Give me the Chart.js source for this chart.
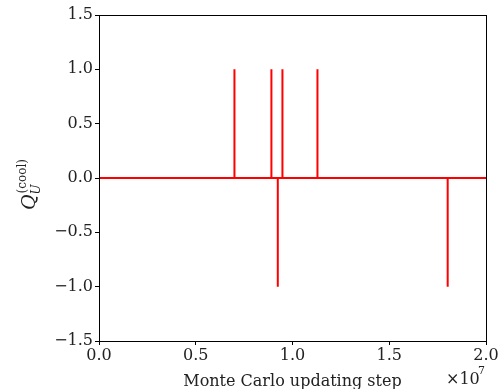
<!DOCTYPE html>
<html><head><meta charset="utf-8">
<script src="https://cdn.jsdelivr.net/npm/chart.js@4.4.1/dist/chart.umd.min.js"></script>
<style>html,body{margin:0;padding:0;background:#fff}#wrap{width:503px;height:389px}</style>
</head><body><div id="wrap"><canvas id="c" width="503" height="389"></canvas></div>
<script>
// Monte Carlo steps where Q_U^(cool) jumps, and the jump values
const spikeSteps = [7.00e6, 8.91e6, 9.24e6, 9.48e6, 11.29e6, 18.02e6];
const spikeValues = [1, 1, -1, 1, 1, -1];
const xRange = [0, 2e7];
const yTicks = [-1.5, -1.0, -0.5, 0.0, 0.5, 1.0, 1.5];
const xTicks = [0, 0.5e7, 1.0e7, 1.5e7, 2.0e7];

const series = [{x: xRange[0], y: 0}];
spikeSteps.forEach((s, i) => {
  series.push({x: s, y: 0}, {x: s, y: spikeValues[i]}, {x: s, y: 0});
});
series.push({x: xRange[1], y: 0});

const FONT = '"DejaVu Serif", serif';
const fmt = v => { const s = Math.abs(v).toFixed(1); return (v < -1e-9 ? '\u2212' : '') + s; };

const frame = {
  id: 'frame',
  afterDraw(chart) {
    const {ctx, chartArea: a} = chart;
    ctx.save();
    ctx.strokeStyle = '#000'; ctx.lineWidth = 1;
    ctx.strokeRect(Math.round(a.left) + 0.5, Math.round(a.top) + 0.5, Math.round(a.right - a.left), Math.round(a.bottom - a.top));
    ctx.fillStyle = '#222';
    // x title
    ctx.font = '16px ' + FONT;
    ctx.textAlign = 'center'; ctx.textBaseline = 'alphabetic';
    ctx.fillText('Monte Carlo updating step', (a.left + a.right) / 2, 386);
    // x10^7
    ctx.textAlign = 'left';
    ctx.fillText('\u00d710', 446, 384);
    ctx.font = '11px ' + FONT;
    ctx.fillText('7', 478, 374);
    // y title rotated
    ctx.translate(35, (a.top + a.bottom) / 2);
    ctx.rotate(-Math.PI / 2);
    ctx.textAlign = 'left';
    ctx.font = 'italic 19px ' + FONT;
    const wQ = ctx.measureText('Q').width;
    const start = -32;
    ctx.fillText('Q', start, 0);
    ctx.font = 'italic 12px ' + FONT;
    ctx.fillText('U', start + wQ, 5);
    ctx.font = '12px ' + FONT;
    ctx.fillText('(cool)', start + wQ + 1, -9);
    ctx.restore();
  }
};

new Chart(document.getElementById('c'), {
  type: 'line',
  data: { datasets: [{ data: series, borderColor: '#ff0000', borderWidth: 2, pointRadius: 0, tension: 0, fill: false }] },
  options: {
    responsive: false, animation: false, devicePixelRatio: 1,
    layout: { padding: { left: 0, top: 15, right: 17, bottom: 0 } },
    plugins: { legend: { display: false }, tooltip: { enabled: false } },
    scales: {
      x: {
        type: 'linear', min: xRange[0], max: xRange[1],
        afterFit: s => { s.height = 48; },
        afterBuildTicks: s => { s.ticks = xTicks.map(v => ({value: v})); },
        grid: { drawOnChartArea: false, tickLength: 4, tickColor: '#000', color: '#000' },
        border: { display: false },
        ticks: { color: '#222', font: { family: FONT, size: 16 }, padding: 1, maxRotation: 0,
                 callback: v => fmt(v / 1e7) }
      },
      y: {
        min: -1.5, max: 1.5,
        afterFit: s => { s.width = 99; },
        afterBuildTicks: s => { s.ticks = yTicks.map(v => ({value: v})); },
        grid: { drawOnChartArea: false, tickLength: 4, tickColor: '#000', color: '#000' },
        border: { display: false },
        ticks: { color: '#222', font: { family: FONT, size: 16 }, padding: 2,
                 callback: v => fmt(v) }
      }
    }
  },
  plugins: [frame]
});
</script></body></html>
